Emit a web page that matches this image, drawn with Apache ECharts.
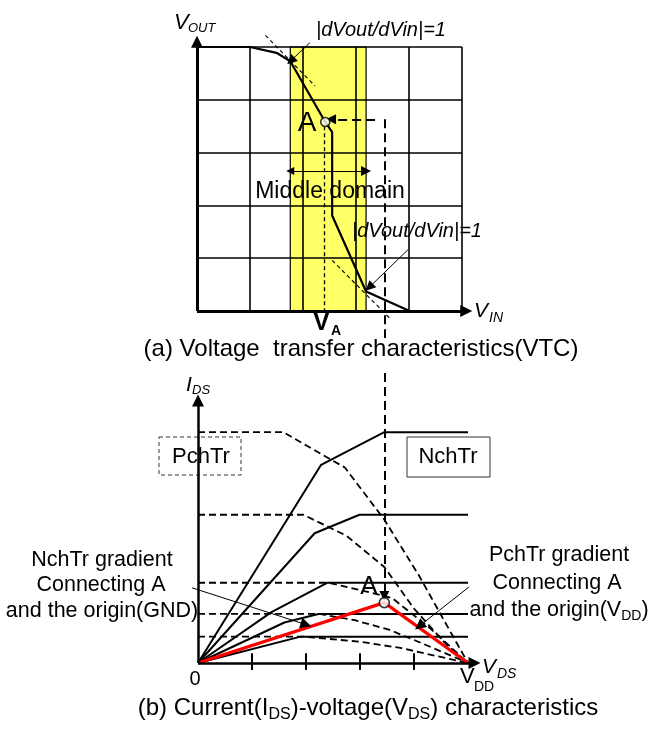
<!DOCTYPE html>
<html><head><meta charset="utf-8">
<script src="https://cdn.jsdelivr.net/npm/echarts@6/dist/echarts.min.js"></script>
<style>html,body{margin:0;padding:0;background:#fff}#c{width:649px;height:729px}</style>
</head><body><div id="c"></div>
<script>
// ---------- (a) Voltage transfer characteristics ----------
const vtcGridTicks = [0, 1, 2, 3, 4, 5];
const vtcCurve = [[0,5],[1.0,5],[1.5,4.89],[1.76,4.73],[2.42,3.58],[2.55,3.39],[2.55,1.81],[3.19,0.37],[3.99,0.01]];
const middleBand = [1.76, 3.19];
const vtcPointA = [2.42, 3.58];
const tangentTop = [[1.29,5.22],[2.23,4.26]];
const tangentBottom = [[2.55,0.96],[3.65,-0.15]];
const vaDrop = [[2.40,3.5],[2.40,0]];
const linkHoriz = [[3.36,3.63],[2.53,3.63]];
const linkDownA = [[3.55,3.63],[3.55,-0.51]];
const slopeArrowTop = [[2.13,5.08],[1.77,4.74]];
const slopeArrowBottom = [[3.98,1.16],[3.25,0.45]];
const domainArrowY = 2.65;

// ---------- (b) Current-voltage characteristics ----------
const vdsTicks = [1, 2, 3, 4];
const nch1 = [[0,0],[2.28,8.57],[3.45,9.98],[5,9.98]];
const nch2 = [[0,0],[2.16,5.61],[2.99,6.41],[5,6.41]];
const nch3 = [[0,0],[1.36,2.2],[2.40,3.47],[5,3.47]];
const nch4 = [[0,0],[1.6,1.75],[2.23,2.12],[5,2.12]];
const nch5 = [[0,0],[1.9,1.14],[5,1.14]];
const pch1 = [[0,9.98],[1.58,9.98],[2.72,8.45],[3.45,6.2],[4.1,3.75],[4.65,1.45],[5,0]];
const pch2 = [[0,6.41],[1.95,6.41],[2.75,5.5],[3.45,4.15],[4.0,2.35],[4.6,0.8],[5,0]];
const pch3 = [[0,3.47],[2.41,3.47],[3.1,3.1],[3.6,2.8],[4.3,1.5],[5,0]];
const pch4 = [[0,2.12],[2.25,2.12],[2.9,1.85],[3.55,1.43],[4.15,0.85],[5,0]];
const pch5 = [[0,1.14],[1.95,1.14],[3.0,0.92],[3.75,0.65],[5,0]];
const redPath = [[0,0],[3.45,2.61],[5,0]];
const ivPointA = [3.45, 2.61];
const linkDownB = [[3.45,12.54],[3.45,2.9]];
const nchArrow = [[-0.11,3.25],[2.0,1.66]];
const pchArrow = [[5.02,3.29],[4.1,1.6]];

const FONT = '"Liberation Sans", Arial, Helvetica, sans-serif';
const series = [];

function segs(list, ax, style, extra) {
  return Object.assign({
    type: 'lines', coordinateSystem: 'cartesian2d', xAxisIndex: ax, yAxisIndex: ax,
    data: list.map(c => ({coords: c})), clip: false, silent: true,
    lineStyle: Object.assign({color: '#000', width: 1, opacity: 1, curveness: 0}, style)
  }, extra || {});
}
function path(data, ax, style, z) {
  return {type: 'line', xAxisIndex: ax, yAxisIndex: ax, data: data, symbol: 'none', clip: false,
    silent: true, z: z || 3, lineStyle: Object.assign({color: '#000', width: 2}, style)};
}

// (a) yellow band
series.push({type: 'line', xAxisIndex: 0, yAxisIndex: 0, data: [[middleBand[0], 0]], symbol: 'none',
  lineStyle: {width: 0}, z: 1, silent: true,
  markArea: {silent: true, itemStyle: {color: '#ffff66', borderColor: '#000', borderWidth: 1.2},
    data: [[{coord: [middleBand[0], 0]}, {coord: [middleBand[1], 5]}]]}});
// (a) grid cells
const gridSegs = [];
vtcGridTicks.forEach(t => { if (t > 0) { gridSegs.push([[t,0],[t,5]]); gridSegs.push([[0,t],[5,t]]); } });
series.push(segs(gridSegs, 0, {width: 1.6}, {z: 2}));
// (a) dashed helpers
series.push(segs([tangentTop, tangentBottom], 0, {width: 1.1, type: [4,3]}, {z: 3}));
series.push(segs([vaDrop], 0, {width: 1.3, type: [4,3]}, {z: 3}));
series.push(segs([linkHoriz], 0, {width: 2, type: [9,5]}, {z: 3, symbol: ['none','triangle'], symbolSize: [8,10]}));
series.push(segs([linkDownA], 0, {width: 2, type: [9,5]}, {z: 3}));
series.push(segs([slopeArrowTop, slopeArrowBottom], 0, {width: 1}, {z: 5, symbol: ['none','triangle'], symbolSize: [7,10]}));
series.push(segs([[[middleBand[0], domainArrowY],[middleBand[1], domainArrowY]]], 0, {width: 1.2}, {z: 5, symbol: ['triangle','triangle'], symbolSize: [8,10]}));
// (a) curve
series.push(path(vtcCurve, 0, {width: 2.2}, 4));
// (a) axes
series.push(segs([[[0,0],[0,5.1]], [[0,0],[5.08,0]]], 0, {width: 3}, {z: 6, symbol: ['none','triangle'], symbolSize: [9,12]}));
// (a) point A
series.push({type: 'scatter', xAxisIndex: 0, yAxisIndex: 0, data: [vtcPointA], symbol: 'circle', symbolSize: 9, z: 7, silent: true,
  itemStyle: {color: '#fff', borderColor: '#000', borderWidth: 1.6}});

// (b) dashed PchTr curves
[pch1, pch2, pch3, pch4, pch5].forEach(d => series.push(path(d, 1, {width: 1.8, type: [7,4]}, 3)));
// (b) solid NchTr curves
[nch1, nch2, nch3, nch4, nch5].forEach(d => series.push(path(d, 1, {width: 2}, 3)));
// (b) link line from (a)
series.push(segs([linkDownB], 1, {width: 2, type: [9,5]}, {z: 4, symbol: ['none','triangle'], symbolSize: [8,10]}));
// (b) annotation arrows
series.push(segs([nchArrow, pchArrow], 1, {width: 1}, {z: 6, symbol: ['none','triangle'], symbolSize: [8,11]}));
// (b) red gradient lines
series.push(path(redPath, 1, {width: 3.2, color: '#ff0000'}, 5));
// (b) axes and ticks
series.push(segs([[[0,0],[0,11.35]], [[0,0],[5.12,0]]], 1, {width: 2.5}, {z: 6, symbol: ['none','triangle'], symbolSize: [9,12]}));
series.push(segs(vdsTicks.map(t => [[t,-0.3],[t,0.42]]), 1, {width: 2}, {z: 6}));
// (b) point A
series.push({type: 'scatter', xAxisIndex: 1, yAxisIndex: 1, data: [ivPointA], symbol: 'circle', symbolSize: 10, z: 7, silent: true,
  itemStyle: {color: '#fff', borderColor: '#000', borderWidth: 1.6}});

function txt(x, y, text, size, o) {
  o = o || {};
  return {type: 'text', x: x, y: y, z: o.z == null ? 10 : o.z,
    style: Object.assign({text: text, fill: '#000',
      font: (o.it ? 'italic ' : '') + (o.b ? 'bold ' : '') + size + 'px ' + FONT,
      align: o.align || 'center', verticalAlign: o.va || 'middle'}, o.extra || {})};
}
function richSub(x, y, text, size, subSize) {
  return {type: 'text', x: x, y: y, z: 10, style: {text: text, fill: '#000', align: 'center', verticalAlign: 'middle',
    rich: {n: {fontSize: size, fontFamily: FONT, lineHeight: Math.round(size * 1.25), fill: '#000'},
           s: {fontSize: subSize, fontFamily: FONT, lineHeight: subSize, verticalAlign: 'bottom', fill: '#000'}}}};
}

const graphic = [
  // (a) labels
  txt(174, 23, 'V', 22, {it: true, align: 'left'}),
  txt(188, 28, 'OUT', 13, {it: true, align: 'left'}),
  txt(474, 311, 'V', 21, {it: true, align: 'left'}),
  txt(489, 318, 'IN', 14, {it: true, align: 'left'}),
  txt(381, 30, '|dVout/dVin|=1', 20, {it: true}),
  txt(417, 231, '|dVout/dVin|=1', 20, {it: true}),
  txt(307, 123, 'A', 28),
  txt(330, 192, 'Middle domain', 23),
  txt(313, 323, 'V', 25, {b: true, align: 'left'}),
  txt(331, 331, 'A', 14, {b: true, align: 'left'}),
  txt(361, 349, '(a) Voltage  transfer characteristics(VTC)', 24),
  // (b) labels
  txt(186, 385, 'I', 21, {it: true, align: 'left'}),
  txt(192, 390, 'DS', 13, {it: true, align: 'left'}),
  {type: 'rect', z: 1, shape: {x: 159, y: 437, width: 82, height: 38}, style: {fill: 'none', stroke: '#333', lineWidth: 1, lineDash: [4,3]}},
  txt(201, 457, 'PchTr', 22, {z: 1}),
  {type: 'rect', z: 1, shape: {x: 407, y: 437, width: 83, height: 40}, style: {fill: '#fff', stroke: '#333', lineWidth: 1}},
  txt(448, 457, 'NchTr', 22),
  txt(369, 587, 'A', 26),
  txt(102, 560, 'NchTr gradient', 21.5),
  txt(101, 585.5, 'Connecting A', 21.5),
  txt(102, 611, 'and the origin(GND)', 21.5),
  txt(559, 555, 'PchTr gradient', 21.5),
  txt(557, 583, 'Connecting A', 21.5),
  richSub(559, 610, '{n|and the origin(V}{s|DD}{n|)}', 21.5, 14),
  txt(195, 679, '0', 20),
  txt(460, 677, 'V', 22, {align: 'left'}),
  txt(474, 687, 'DD', 14, {align: 'left'}),
  txt(482, 667, 'V', 21, {it: true, align: 'left'}),
  txt(497, 674, 'DS', 14, {it: true, align: 'left'}),
  richSub(368, 708, '{n|(b) Current(I}{s|DS}{n|)-voltage(V}{s|DS}{n|) characteristics}', 24, 16)
];

const chart = echarts.init(document.getElementById('c'), null, {renderer: 'canvas', devicePixelRatio: 1});
chart.setOption({
  animation: false,
  backgroundColor: '#fff',
  grid: [{left: 197, top: 47, width: 265, height: 264}, {left: 198, top: 397, width: 270, height: 266}],
  xAxis: [{gridIndex: 0, type: 'value', min: 0, max: 5, show: false}, {gridIndex: 1, type: 'value', min: 0, max: 5, show: false}],
  yAxis: [{gridIndex: 0, type: 'value', min: 0, max: 5, show: false}, {gridIndex: 1, type: 'value', min: 0, max: 11.5, show: false}],
  series: series,
  graphic: graphic
});
</script></body></html>
